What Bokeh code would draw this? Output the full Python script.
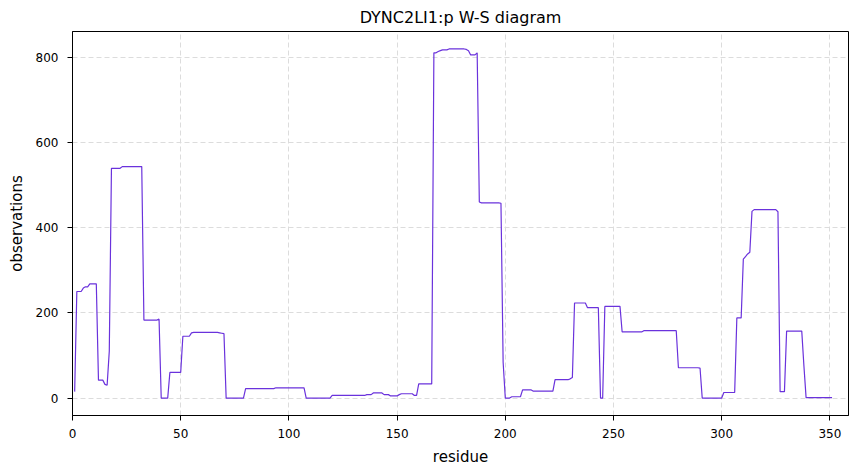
from bokeh.plotting import figure
from bokeh.models import Range1d, FixedTicker
from bokeh.embed import file_html
from bokeh.resources import INLINE

residue = list(range(1, 352))
observations = [
    15, 250, 250, 250, 258, 261, 261, 268, 268, 268,
    268, 42, 42, 42, 32, 30, 110, 539, 539, 539,
    539, 539, 543, 543, 543, 543, 543, 543, 543, 543,
    543, 543, 183, 183, 183, 183, 183, 183, 183, 185,
    0, 0, 0, 0, 60, 60, 60, 60, 60, 60,
    145, 145, 145, 145, 153, 154, 154, 154, 154, 154,
    154, 154, 154, 154, 154, 154, 154, 153, 152, 151,
    0, 0, 0, 0, 0, 0, 0, 0, 0, 22,
    22, 22, 22, 22, 22, 22, 22, 22, 22, 22,
    22, 22, 22, 24, 24, 24, 24, 24, 24, 24,
    24, 24, 24, 24, 24, 24, 24, 0, 0, 0,
    0, 0, 0, 0, 0, 0, 0, 0, 0, 6,
    6, 6, 6, 6, 6, 6, 6, 6, 6, 6,
    6, 6, 6, 6, 6, 8, 8, 8, 12, 12,
    12, 12, 12, 8, 8, 8, 5, 5, 5, 5,
    8, 10, 10, 10, 10, 10, 10, 6, 6, 33,
    33, 33, 33, 33, 33, 33, 810, 810, 813, 815,
    817, 817, 817, 819, 819, 819, 819, 819, 819, 819,
    819, 818, 815, 805, 805, 805, 810, 460, 458, 458,
    458, 458, 458, 458, 458, 458, 458, 457, 84, 0,
    0, 0, 3, 3, 3, 3, 3, 19, 19, 19,
    19, 19, 16, 16, 16, 16, 16, 16, 16, 16,
    16, 16, 43, 43, 43, 43, 43, 43, 43, 45,
    48, 223, 223, 223, 223, 223, 223, 212, 212, 212,
    212, 212, 212, 0, 0, 215, 215, 215, 215, 215,
    215, 215, 215, 155, 155, 155, 155, 155, 155, 155,
    155, 155, 155, 158, 158, 158, 158, 158, 158, 158,
    158, 158, 158, 158, 158, 158, 158, 158, 158, 71,
    71, 71, 71, 71, 71, 71, 71, 71, 71, 70,
    0, 0, 0, 0, 0, 0, 0, 0, 0, 0,
    13, 13, 13, 13, 13, 13, 188, 188, 188, 326,
    332, 338, 342, 438, 442, 442, 442, 442, 442, 442,
    442, 442, 442, 442, 442, 437, 15, 15, 15, 157,
    157, 157, 157, 157, 157, 157, 157, 75, 1, 1,
    1, 1, 1, 1, 1, 1, 1, 1, 1, 1,
    1,
]
x_ticks = [0, 50, 100, 150, 200, 250, 300, 350]
y_ticks = [0, 200, 400, 600, 800]

FONT = "DejaVu Sans"

p = figure(width=850, height=470, output_backend="svg", toolbar_location=None,
           x_range=Range1d(0, 358.6), y_range=Range1d(-41, 860),
           title="DYNC2LI1:p W-S diagram",
           min_border_left=72, min_border_right=2, min_border_top=30,
           min_border_bottom=55)

p.line(residue, observations, line_color="#6a32dc", line_width=1.2)

p.title.align = "center"
p.title.text_font = FONT
p.title.text_font_size = "16px"
p.title.text_font_style = "normal"
p.title.text_color = "black"

p.outline_line_color = "black"
p.outline_line_width = 1
p.outline_line_alpha = 1

p.xaxis.ticker = FixedTicker(ticks=x_ticks)
p.yaxis.ticker = FixedTicker(ticks=y_ticks)
p.xaxis.axis_label = "residue"
p.yaxis.axis_label = "observations"
p.xaxis.major_label_standoff = 8
p.yaxis.major_label_standoff = 9
p.xaxis.axis_label_standoff = 7
p.yaxis.axis_label_standoff = 7
for ax in (p.xaxis, p.yaxis):
    ax.axis_label_text_font = FONT
    ax.axis_label_text_font_size = "15px"
    ax.axis_label_text_font_style = "normal"
    ax.axis_label_text_color = "black"
    ax.major_label_text_font = FONT
    ax.major_label_text_font_size = "12px"
    ax.major_label_text_color = "black"
    ax.major_tick_out = 5
    ax.major_tick_in = 0
    ax.minor_tick_line_color = None
    ax.axis_line_color = "black"
    ax.major_tick_line_color = "black"

for g in (p.xgrid, p.ygrid):
    g.grid_line_color = "#dcdcdc"
    g.grid_line_dash = "5 3"
    g.grid_line_width = 1

open("out.html", "w").write(file_html(p, INLINE))
